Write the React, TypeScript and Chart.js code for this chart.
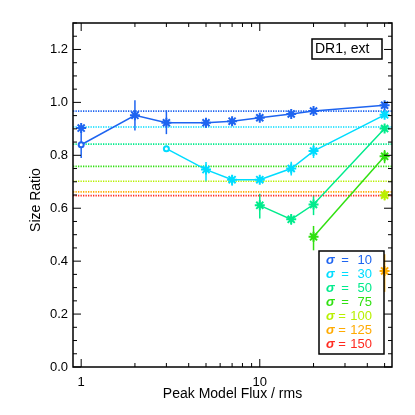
import React, { useEffect, useRef } from "react";
import { Chart, registerables } from "chart.js";

Chart.register(...registerables);

// ---- data ----
const X_MIN = 0.9;
const X_MAX = 55;
const Y_MIN = 0;
const Y_MAX = 1.3;
const Y_TICKS = [0, 0.2, 0.4, 0.6, 0.8, 1.0, 1.2];
const X_TICK_LABELS = [1, 10];

const SIGMAS = ["10", "30", "50", "75", "100", "125", "150"];
const COLORS = ["#1e64f0", "#00dcff", "#00eb8c", "#30e010", "#b8f000", "#ffaa00", "#ff2a20"];
const LEVELS = [0.967, 0.907, 0.842, 0.758, 0.702, 0.662, 0.648];

const S10_X = [1, 2, 3, 5, 7, 10, 15, 20, 50];
const S10_Y = [0.84, 0.951, 0.923, 0.923, 0.929, 0.942, 0.956, 0.967, 0.989];
const S10_LO = [0.79, 0.894, 0.88, 0.905, 0.915, 0.932, 0.946, 0.958, 0.98];
const S10_HI = [0.91, 1.008, 0.97, 0.94, 0.943, 0.952, 0.966, 0.976, 0.998];
const S10_EXTRA_X = [1];
const S10_EXTRA_Y = [0.903];

const S30_X = [3, 5, 7, 10, 15, 20, 50];
const S30_Y = [0.825, 0.746, 0.708, 0.708, 0.75, 0.816, 0.953];
const S30_LO = [0.82, 0.7, 0.685, 0.698, 0.724, 0.79, 0.943];
const S30_HI = [0.83, 0.775, 0.725, 0.718, 0.776, 0.843, 0.963];

const S50_X = [10, 15, 20, 50];
const S50_Y = [0.611, 0.558, 0.614, 0.901];
const S50_LO = [0.561, 0.538, 0.574, 0.89];
const S50_HI = [0.655, 0.578, 0.649, 0.912];

const S75_X = [20, 50];
const S75_Y = [0.492, 0.796];
const S75_LO = [0.441, 0.77];
const S75_HI = [0.533, 0.82];

const S100_X = [50];
const S100_Y = [0.649];
const S100_LO = [0.63];
const S100_HI = [0.67];

const S125_X = [50];
const S125_Y = [0.363];
const S125_LO = [0.284];
const S125_HI = [0.426];

const SERIES = [
  { x: S10_X, y: S10_Y, lo: S10_LO, hi: S10_HI, circleFirst: true, color: COLORS[0] },
  { x: S30_X, y: S30_Y, lo: S30_LO, hi: S30_HI, circleFirst: true, color: COLORS[1] },
  { x: S50_X, y: S50_Y, lo: S50_LO, hi: S50_HI, circleFirst: false, color: COLORS[2] },
  { x: S75_X, y: S75_Y, lo: S75_LO, hi: S75_HI, circleFirst: false, color: COLORS[3] },
  { x: S100_X, y: S100_Y, lo: S100_LO, hi: S100_HI, circleFirst: false, color: COLORS[4] },
  { x: S125_X, y: S125_Y, lo: S125_LO, hi: S125_HI, circleFirst: false, color: COLORS[5] },
];

const FONT = '"Liberation Sans", Arial, sans-serif';

const errorBars = {
  id: "errorBars",
  beforeDatasetsDraw(chart: any) {
    const { ctx, scales } = chart;
    const xs = scales.x;
    const ys = scales.y;
    ctx.save();
    ctx.lineWidth = 1.5;
    SERIES.forEach((s) => {
      ctx.strokeStyle = s.color;
      s.x.forEach((xv, i) => {
        const px = xs.getPixelForValue(xv);
        ctx.beginPath();
        ctx.moveTo(px, ys.getPixelForValue(s.lo[i]));
        ctx.lineTo(px, ys.getPixelForValue(s.hi[i]));
        ctx.stroke();
      });
    });
    ctx.restore();
  },
};

const frame = {
  id: "frame",
  afterDraw(chart: any) {
    const { ctx, chartArea, scales } = chart;
    const { left, right, top, bottom } = chartArea;
    const xs = scales.x;
    const ys = scales.y;
    ctx.save();
    ctx.strokeStyle = "#000";
    ctx.lineWidth = 1;
    const line = (a: number, b: number, c: number, d: number) => {
      ctx.beginPath();
      ctx.moveTo(a, b);
      ctx.lineTo(c, d);
      ctx.stroke();
    };
    // y ticks (minor every 0.05)
    for (let i = 0; i <= 26; i++) {
      const v = i * 0.05;
      const py = ys.getPixelForValue(v);
      const len = i % 4 === 0 ? 8 : 4;
      line(left, py, left + len, py);
      line(right, py, right - len, py);
    }
    // x ticks (log)
    for (let d = 0; d <= 1; d++) {
      for (let m = 1; m <= 9; m++) {
        const v = m * Math.pow(10, d);
        if (v < X_MIN || v > X_MAX) continue;
        const px = xs.getPixelForValue(v);
        const len = m === 1 ? 8 : 4;
        line(px, bottom, px, bottom - len);
        line(px, top, px, top + len);
      }
    }
    // box
    ctx.lineWidth = 1.5;
    ctx.strokeRect(left, top, right - left, bottom - top);

    // tick labels
    ctx.fillStyle = "#000";
    ctx.font = `13px ${FONT}`;
    ctx.textAlign = "right";
    ctx.textBaseline = "middle";
    Y_TICKS.forEach((v) => {
      ctx.fillText(v.toFixed(1), left - 5, ys.getPixelForValue(v));
    });
    ctx.textAlign = "center";
    X_TICK_LABELS.forEach((v) => {
      ctx.fillText(String(v), xs.getPixelForValue(v), 382);
    });

    // titles
    ctx.font = `14px ${FONT}`;
    ctx.fillText("Peak Model Flux / rms", (left + right) / 2, 394);
    ctx.save();
    ctx.translate(36, 200);
    ctx.rotate(-Math.PI / 2);
    ctx.fillText("Size Ratio", 0, 0);
    ctx.restore();

    // DR1 box
    ctx.lineWidth = 1.5;
    ctx.strokeRect(312, 39, 70, 20);
    ctx.textAlign = "left";
    ctx.font = `14px ${FONT}`;
    ctx.fillText("DR1, ext", 315, 49.5);

    // legend
    ctx.strokeRect(319, 251, 65, 103);
    SIGMAS.forEach((s, i) => {
      const yy = 260 + i * 14;
      ctx.fillStyle = COLORS[i];
      ctx.textAlign = "left";
      ctx.font = `italic bold 13px ${FONT}`;
      ctx.fillText("σ", 326, yy);
      ctx.font = `13px ${FONT}`;
      ctx.textAlign = "center";
      ctx.fillText("=", s.length === 3 ? 342 : 345, yy);
      ctx.textAlign = "right";
      ctx.fillText(s, 372, yy);
    });
    ctx.restore();
  },
};

export default function App() {
  const ref = useRef<HTMLCanvasElement | null>(null);
  useEffect(() => {
    if (!ref.current) return;
    const datasets: any[] = [];
    LEVELS.forEach((L, i) => {
      datasets.push({
        data: [
          { x: X_MIN, y: L },
          { x: X_MAX, y: L },
        ],
        showLine: true,
        borderColor: COLORS[i],
        borderWidth: 1.7,
        borderDash: [1.3, 1.2],
        pointRadius: 0,
        order: 10,
      });
    });
    SERIES.forEach((s) => {
      datasets.push({
        data: s.x.map((xv, i) => ({ x: xv, y: s.y[i] })),
        showLine: true,
        borderColor: s.color,
        backgroundColor: "#ffffff",
        borderWidth: 1.5,
        pointStyle: s.x.map((_, i) => (i === 0 && s.circleFirst ? "circle" : "star")),
        pointRadius: s.x.map((_, i) => (i === 0 && s.circleFirst ? 2.5 : 5)),
        pointBorderWidth: 2,
        pointBorderColor: s.color,
        pointBackgroundColor: "#ffffff",
        order: 1,
      });
    });
    datasets.push({
      data: S10_EXTRA_X.map((xv, i) => ({ x: xv, y: S10_EXTRA_Y[i] })),
      showLine: false,
      borderColor: COLORS[0],
      pointStyle: "star",
      pointRadius: 5,
      pointBorderWidth: 2,
      pointBorderColor: COLORS[0],
      order: 1,
    });

    const chart = new Chart(ref.current, {
      type: "scatter",
      data: { datasets },
      options: {
        animation: false,
        responsive: true,
        maintainAspectRatio: false,
        layout: { padding: { left: 73, right: 23, top: 23, bottom: 48 } },
        plugins: { legend: { display: false }, tooltip: { enabled: false } },
        scales: {
          x: { type: "logarithmic", min: X_MIN, max: X_MAX, display: false },
          y: { type: "linear", min: Y_MIN, max: Y_MAX, display: false },
        },
      },
      plugins: [errorBars, frame],
    });
    return () => chart.destroy();
  }, []);
  return (
    <div style={{ position: "absolute", left: 0, top: 0, width: 415, height: 415, background: "#fff" }}>
      <canvas ref={ref} />
    </div>
  );
}
